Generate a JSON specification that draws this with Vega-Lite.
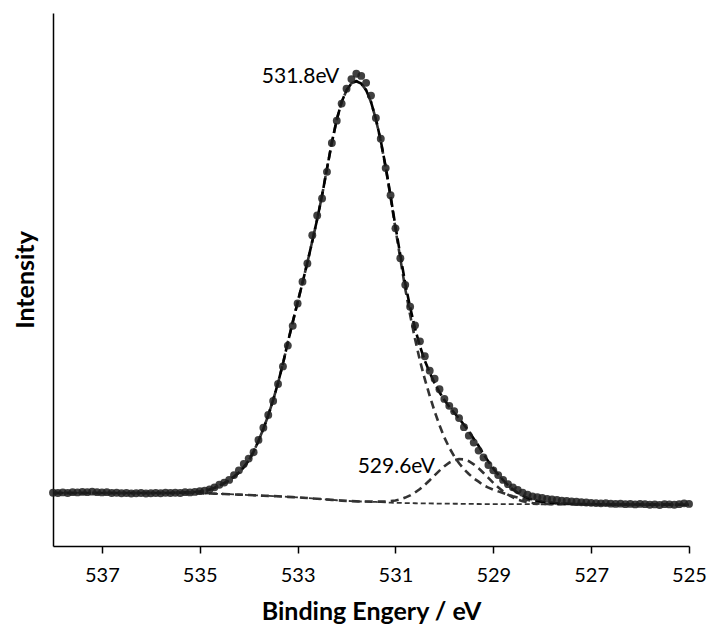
{
  "$schema": "https://vega.github.io/schema/vega-lite/v6.json",
  "autosize": {"type": "none"},
  "padding": {"left": 53, "top": 13, "right": 20, "bottom": 78},
  "width": 636,
  "height": 533,
  "background": "white",
  "config": {
    "view": {"stroke": null},
    "font": "Lato",
    "axis": {"labelFont": "Lato", "titleFont": "Lato", "labelColor": "black", "titleColor": "black", "domainColor": "black", "tickColor": "black", "grid": false}
  },
  "datasets": {
    "spec": [
      {"E":538.0,"obs":10.0,"fit":9.95,"c1":9.95,"c2":9.95,"bg":9.95},
      {"E":537.9,"obs":9.95,"fit":9.95,"c1":9.95,"c2":9.95,"bg":9.95},
      {"E":537.8,"obs":10.05,"fit":9.95,"c1":9.95,"c2":9.95,"bg":9.95},
      {"E":537.7,"obs":9.95,"fit":9.95,"c1":9.95,"c2":9.95,"bg":9.95},
      {"E":537.6,"obs":10.1,"fit":9.95,"c1":9.95,"c2":9.95,"bg":9.95},
      {"E":537.5,"obs":10.05,"fit":9.95,"c1":9.95,"c2":9.95,"bg":9.95},
      {"E":537.4,"obs":10.15,"fit":9.95,"c1":9.95,"c2":9.95,"bg":9.95},
      {"E":537.3,"obs":10.1,"fit":9.95,"c1":9.95,"c2":9.95,"bg":9.95},
      {"E":537.2,"obs":10.2,"fit":9.95,"c1":9.95,"c2":9.95,"bg":9.95},
      {"E":537.1,"obs":10.1,"fit":9.95,"c1":9.95,"c2":9.95,"bg":9.95},
      {"E":537.0,"obs":10.05,"fit":9.95,"c1":9.95,"c2":9.95,"bg":9.95},
      {"E":536.9,"obs":10.1,"fit":9.95,"c1":9.95,"c2":9.95,"bg":9.95},
      {"E":536.8,"obs":9.95,"fit":9.95,"c1":9.95,"c2":9.95,"bg":9.95},
      {"E":536.7,"obs":10.0,"fit":9.95,"c1":9.95,"c2":9.95,"bg":9.95},
      {"E":536.6,"obs":9.9,"fit":9.95,"c1":9.95,"c2":9.95,"bg":9.95},
      {"E":536.5,"obs":9.95,"fit":9.95,"c1":9.95,"c2":9.95,"bg":9.95},
      {"E":536.4,"obs":9.85,"fit":9.95,"c1":9.95,"c2":9.95,"bg":9.95},
      {"E":536.3,"obs":9.9,"fit":9.95,"c1":9.95,"c2":9.95,"bg":9.95},
      {"E":536.2,"obs":9.95,"fit":9.95,"c1":9.95,"c2":9.95,"bg":9.95},
      {"E":536.1,"obs":9.85,"fit":9.95,"c1":9.95,"c2":9.95,"bg":9.95},
      {"E":536.0,"obs":9.9,"fit":9.95,"c1":9.95,"c2":9.95,"bg":9.95},
      {"E":535.9,"obs":9.95,"fit":9.95,"c1":9.95,"c2":9.95,"bg":9.95},
      {"E":535.8,"obs":9.9,"fit":9.95,"c1":9.95,"c2":9.95,"bg":9.95},
      {"E":535.7,"obs":10.0,"fit":9.95,"c1":9.95,"c2":9.95,"bg":9.95},
      {"E":535.6,"obs":9.95,"fit":9.95,"c1":9.95,"c2":9.95,"bg":9.95},
      {"E":535.5,"obs":10.0,"fit":10.0,"c1":10.0,"c2":9.94,"bg":9.94},
      {"E":535.4,"obs":9.95,"fit":10.02,"c1":10.02,"c2":9.93,"bg":9.93},
      {"E":535.3,"obs":10.1,"fit":10.04,"c1":10.04,"c2":9.92,"bg":9.92},
      {"E":535.2,"obs":10.05,"fit":10.07,"c1":10.07,"c2":9.91,"bg":9.91},
      {"E":535.1,"obs":10.15,"fit":10.12,"c1":10.12,"c2":9.9,"bg":9.9},
      {"E":535.0,"obs":10.3,"fit":10.2,"c1":10.2,"c2":9.89,"bg":9.89},
      {"E":534.9,"obs":10.4,"fit":10.35,"c1":10.35,"c2":9.87,"bg":9.87},
      {"E":534.8,"obs":10.6,"fit":10.6,"c1":10.6,"c2":9.85,"bg":9.85},
      {"E":534.7,"obs":11.0,"fit":10.9,"c1":10.9,"c2":9.82,"bg":9.82},
      {"E":534.6,"obs":11.5,"fit":11.3,"c1":11.3,"c2":9.79,"bg":9.79},
      {"E":534.5,"obs":11.9,"fit":11.8,"c1":11.8,"c2":9.76,"bg":9.76},
      {"E":534.4,"obs":12.4,"fit":12.3,"c1":12.3,"c2":9.72,"bg":9.72},
      {"E":534.3,"obs":13.3,"fit":13.0,"c1":13.0,"c2":9.68,"bg":9.68},
      {"E":534.2,"obs":14.2,"fit":13.8,"c1":13.8,"c2":9.64,"bg":9.64},
      {"E":534.1,"obs":15.4,"fit":14.8,"c1":14.8,"c2":9.6,"bg":9.6},
      {"E":534.0,"obs":16.4,"fit":16.0,"c1":16.0,"c2":9.56,"bg":9.56},
      {"E":533.9,"obs":17.6,"fit":17.7,"c1":17.7,"c2":9.52,"bg":9.52},
      {"E":533.8,"obs":19.9,"fit":19.7,"c1":19.7,"c2":9.48,"bg":9.48},
      {"E":533.7,"obs":22.2,"fit":22.0,"c1":22.0,"c2":9.44,"bg":9.44},
      {"E":533.6,"obs":24.6,"fit":24.5,"c1":24.5,"c2":9.4,"bg":9.4},
      {"E":533.5,"obs":27.2,"fit":27.4,"c1":27.4,"c2":9.36,"bg":9.36},
      {"E":533.4,"obs":30.4,"fit":30.6,"c1":30.6,"c2":9.32,"bg":9.32},
      {"E":533.3,"obs":33.7,"fit":34.2,"c1":34.2,"c2":9.27,"bg":9.27},
      {"E":533.2,"obs":37.6,"fit":38.2,"c1":38.2,"c2":9.22,"bg":9.22},
      {"E":533.1,"obs":41.3,"fit":42.0,"c1":42.0,"c2":9.17,"bg":9.17},
      {"E":533.0,"obs":45.5,"fit":45.7,"c1":45.7,"c2":9.12,"bg":9.12},
      {"E":532.9,"obs":49.6,"fit":49.4,"c1":49.4,"c2":9.06,"bg":9.06},
      {"E":532.8,"obs":53.0,"fit":53.2,"c1":53.2,"c2":9.0,"bg":9.0},
      {"E":532.7,"obs":58.3,"fit":57.2,"c1":57.2,"c2":8.93,"bg":8.93},
      {"E":532.6,"obs":62.0,"fit":61.3,"c1":61.3,"c2":8.86,"bg":8.86},
      {"E":532.5,"obs":65.2,"fit":65.8,"c1":65.8,"c2":8.79,"bg":8.79},
      {"E":532.4,"obs":70.2,"fit":70.8,"c1":70.8,"c2":8.72,"bg":8.72},
      {"E":532.3,"obs":75.6,"fit":75.7,"c1":75.7,"c2":8.65,"bg":8.65},
      {"E":532.2,"obs":79.8,"fit":80.0,"c1":80.0,"c2":8.58,"bg":8.58},
      {"E":532.1,"obs":83.0,"fit":83.3,"c1":83.3,"c2":8.52,"bg":8.52},
      {"E":532.0,"obs":85.8,"fit":85.5,"c1":85.5,"c2":8.47,"bg":8.47},
      {"E":531.9,"obs":87.6,"fit":86.8,"c1":86.8,"c2":8.42,"bg":8.42},
      {"E":531.8,"obs":88.6,"fit":87.2,"c1":87.2,"c2":8.38,"bg":8.38},
      {"E":531.7,"obs":88.2,"fit":86.75,"c1":86.75,"c2":8.35,"bg":8.35},
      {"E":531.6,"obs":86.9,"fit":85.54,"c1":85.53,"c2":8.34,"bg":8.33},
      {"E":531.5,"obs":84.5,"fit":83.33,"c1":83.3,"c2":8.33,"bg":8.3},
      {"E":531.4,"obs":80.3,"fit":80.12,"c1":80.06,"c2":8.32,"bg":8.26},
      {"E":531.3,"obs":76.4,"fit":76.03,"c1":75.92,"c2":8.33,"bg":8.22},
      {"E":531.2,"obs":70.9,"fit":71.16,"c1":70.98,"c2":8.36,"bg":8.18},
      {"E":531.1,"obs":65.8,"fit":65.73,"c1":65.44,"c2":8.43,"bg":8.14},
      {"E":531.0,"obs":59.6,"fit":59.95,"c1":59.5,"c2":8.55,"bg":8.1},
      {"E":530.9,"obs":54.0,"fit":54.57,"c1":53.88,"c2":8.77,"bg":8.08},
      {"E":530.8,"obs":49.0,"fit":49.28,"c1":48.26,"c2":9.08,"bg":8.06},
      {"E":530.7,"obs":44.9,"fit":44.79,"c1":43.34,"c2":9.49,"bg":8.04},
      {"E":530.6,"obs":41.4,"fit":40.83,"c1":38.82,"c2":10.03,"bg":8.02},
      {"E":530.5,"obs":38.4,"fit":37.49,"c1":34.8,"c2":10.69,"bg":8.0},
      {"E":530.4,"obs":35.6,"fit":34.77,"c1":31.29,"c2":11.47,"bg":7.99},
      {"E":530.3,"obs":32.9,"fit":32.54,"c1":28.18,"c2":12.34,"bg":7.98},
      {"E":530.2,"obs":31.4,"fit":30.55,"c1":25.27,"c2":13.25,"bg":7.97},
      {"E":530.1,"obs":29.4,"fit":28.85,"c1":22.66,"c2":14.15,"bg":7.96},
      {"E":530.0,"obs":27.6,"fit":27.37,"c1":20.35,"c2":14.97,"bg":7.95},
      {"E":529.9,"obs":26.3,"fit":26.14,"c1":18.44,"c2":15.64,"bg":7.94},
      {"E":529.8,"obs":25.3,"fit":25.0,"c1":16.83,"c2":16.1,"bg":7.93},
      {"E":529.7,"obs":24.0,"fit":23.91,"c1":15.52,"c2":16.31,"bg":7.92},
      {"E":529.6,"obs":22.3,"fit":22.74,"c1":14.41,"c2":16.24,"bg":7.91},
      {"E":529.5,"obs":20.7,"fit":21.51,"c1":13.5,"c2":15.91,"bg":7.9},
      {"E":529.4,"obs":19.4,"fit":20.13,"c1":12.69,"c2":15.33,"bg":7.89},
      {"E":529.3,"obs":17.9,"fit":18.78,"c1":12.08,"c2":14.58,"bg":7.88},
      {"E":529.2,"obs":16.6,"fit":17.2,"c1":11.37,"c2":13.7,"bg":7.87},
      {"E":529.1,"obs":15.2,"fit":15.87,"c1":10.96,"c2":12.77,"bg":7.86},
      {"E":529.0,"obs":14.2,"fit":14.55,"c1":10.55,"c2":11.85,"bg":7.85},
      {"E":528.9,"obs":13.3,"fit":13.4,"c1":10.25,"c2":11.0,"bg":7.85},
      {"E":528.8,"obs":12.4,"fit":12.35,"c1":9.95,"c2":10.25,"bg":7.85},
      {"E":528.7,"obs":11.6,"fit":11.43,"c1":9.65,"c2":9.63,"bg":7.85},
      {"E":528.6,"obs":11.0,"fit":10.62,"c1":9.35,"c2":9.12,"bg":7.85},
      {"E":528.5,"obs":10.5,"fit":9.96,"c1":9.09,"c2":8.71,"bg":7.84},
      {"E":528.4,"obs":10.0,"fit":9.42,"c1":8.84,"c2":8.42,"bg":7.84},
      {"E":528.3,"obs":9.65,"fit":9.02,"c1":8.64,"c2":8.22,"bg":7.84},
      {"E":528.2,"obs":9.3,"fit":8.73,"c1":8.49,"c2":8.08,"bg":7.84},
      {"E":528.1,"obs":9.15,"fit":8.47,"c1":8.33,"c2":7.97,"bg":7.83},
      {"E":528.0,"obs":9.0,"fit":8.31,"c1":8.23,"c2":7.91,"bg":7.83},
      {"E":527.9,"obs":8.85,"fit":8.18,"c1":8.13,"c2":7.88,"bg":7.83},
      {"E":527.8,"obs":8.75,"fit":8.1,"c1":8.08,"c2":7.85,"bg":7.83},
      {"E":527.7,"obs":8.65,"fit":8.03,"c1":8.02,"c2":7.83,"bg":7.82},
      {"E":527.6,"obs":8.5,"fit":7.97,"c1":7.97,"c2":7.82,"bg":7.82},
      {"E":527.5,"obs":8.45,"fit":7.94,"c1":7.94,"c2":7.82,"bg":7.82},
      {"E":527.4,"obs":8.35,"fit":7.92,"c1":7.92,"c2":7.82,"bg":7.82},
      {"E":527.3,"obs":8.3,"fit":7.89,"c1":7.89,"c2":7.81,"bg":7.81},
      {"E":527.2,"obs":8.2,"fit":7.87,"c1":7.87,"c2":7.81,"bg":7.81},
      {"E":527.1,"obs":8.15,"fit":7.86,"c1":7.86,"c2":7.81,"bg":7.81},
      {"E":527.0,"obs":8.1,"fit":7.85,"c1":7.85,"c2":7.81,"bg":7.81},
      {"E":526.9,"obs":8.05,"fit":7.83,"c1":7.83,"c2":7.8,"bg":7.8},
      {"E":526.8,"obs":8.0,"fit":7.82,"c1":7.82,"c2":7.8,"bg":7.8},
      {"E":526.7,"obs":8.05,"fit":7.8,"c1":7.8,"c2":7.8,"bg":7.8},
      {"E":526.6,"obs":7.95,"fit":7.8,"c1":7.8,"c2":7.8,"bg":7.8},
      {"E":526.5,"obs":7.9,"fit":7.79,"c1":7.79,"c2":7.79,"bg":7.79},
      {"E":526.4,"obs":7.95,"fit":7.79,"c1":7.79,"c2":7.79,"bg":7.79},
      {"E":526.3,"obs":7.85,"fit":7.79,"c1":7.79,"c2":7.79,"bg":7.79},
      {"E":526.2,"obs":7.9,"fit":7.78,"c1":7.78,"c2":7.78,"bg":7.78},
      {"E":526.1,"obs":7.8,"fit":7.78,"c1":7.78,"c2":7.78,"bg":7.78},
      {"E":526.0,"obs":7.9,"fit":7.78,"c1":7.78,"c2":7.78,"bg":7.78},
      {"E":525.9,"obs":7.85,"fit":7.77,"c1":7.77,"c2":7.77,"bg":7.77},
      {"E":525.8,"obs":7.75,"fit":7.77,"c1":7.77,"c2":7.77,"bg":7.77},
      {"E":525.7,"obs":7.8,"fit":7.77,"c1":7.77,"c2":7.77,"bg":7.77},
      {"E":525.6,"obs":7.7,"fit":7.76,"c1":7.76,"c2":7.76,"bg":7.76},
      {"E":525.5,"obs":7.85,"fit":7.76,"c1":7.76,"c2":7.76,"bg":7.76},
      {"E":525.4,"obs":7.8,"fit":7.76,"c1":7.76,"c2":7.76,"bg":7.76},
      {"E":525.3,"obs":7.75,"fit":7.75,"c1":7.75,"c2":7.75,"bg":7.75},
      {"E":525.2,"obs":7.85,"fit":7.75,"c1":7.75,"c2":7.75,"bg":7.75},
      {"E":525.1,"obs":8.0,"fit":7.75,"c1":7.75,"c2":7.75,"bg":7.75},
      {"E":525.0,"obs":7.9,"fit":7.75,"c1":7.75,"c2":7.75,"bg":7.75}
    ],
    "labels": [
      {"E": 532.15, "v": 88.0, "label": "531.8eV"},
      {"E": 530.19, "v": 14.8, "label": "529.6eV"}
    ]
  },
  "encoding": {
    "x": {
      "field": "E", "type": "quantitative",
      "scale": {"domain": [538, 525], "nice": false, "zero": false},
      "axis": {
        "title": "Binding Engery / eV",
        "values": [537, 535, 533, 531, 529, 527, 525],
        "format": "d",
        "labelFontSize": 20,
        "labelPadding": 12,
        "tickSize": 7,
        "tickWidth": 1.5,
        "domainWidth": 1.5,
        "titleFontSize": 25,
        "titleFontWeight": "bold",
        "titlePadding": 14,
        "labelFlush": false,
        "labelOverlap": false
      }
    }
  },
  "layer": [
    {
      "data": {"name": "spec"},
      "mark": {"type": "line", "stroke": "#333333", "strokeWidth": 1.8, "strokeDash": [5, 3]},
      "encoding": {
        "y": {
          "field": "bg", "type": "quantitative",
          "scale": {"domain": [0, 100], "nice": false, "zero": true},
          "axis": {
            "title": "Intensity",
            "ticks": false, "labels": false, "domainWidth": 1.5,
            "titleFontSize": 25, "titleFontWeight": "bold",
            "titleAngle": -90, "titleX": -28, "titleY": 266.5,
            "titleAlign": "center", "titleBaseline": "middle"
          }
        }
      }
    },
    {
      "data": {"name": "spec"},
      "mark": {"type": "line", "stroke": "#333333", "strokeWidth": 2.6, "strokeDash": [8, 5]},
      "encoding": {"y": {"field": "c2", "type": "quantitative"}}
    },
    {
      "data": {"name": "spec"},
      "mark": {"type": "line", "stroke": "#333333", "strokeWidth": 2.6, "strokeDash": [8, 5]},
      "encoding": {"y": {"field": "c1", "type": "quantitative"}}
    },
    {
      "data": {"name": "spec"},
      "mark": {"type": "line", "stroke": "#000000", "strokeWidth": 2.6, "strokeDash": [10, 4]},
      "encoding": {"y": {"field": "fit", "type": "quantitative"}}
    },
    {
      "data": {"name": "spec"},
      "mark": {"type": "point", "filled": true, "fill": "#1e1e1e", "opacity": 0.85, "size": 62, "clip": false},
      "encoding": {"y": {"field": "obs", "type": "quantitative"}}
    },
    {
      "data": {"name": "labels"},
      "mark": {"type": "text", "align": "right", "baseline": "middle", "font": "Lato", "fontSize": 21, "fill": "black"},
      "encoding": {
        "y": {"field": "v", "type": "quantitative"},
        "text": {"field": "label"}
      }
    }
  ]
}
